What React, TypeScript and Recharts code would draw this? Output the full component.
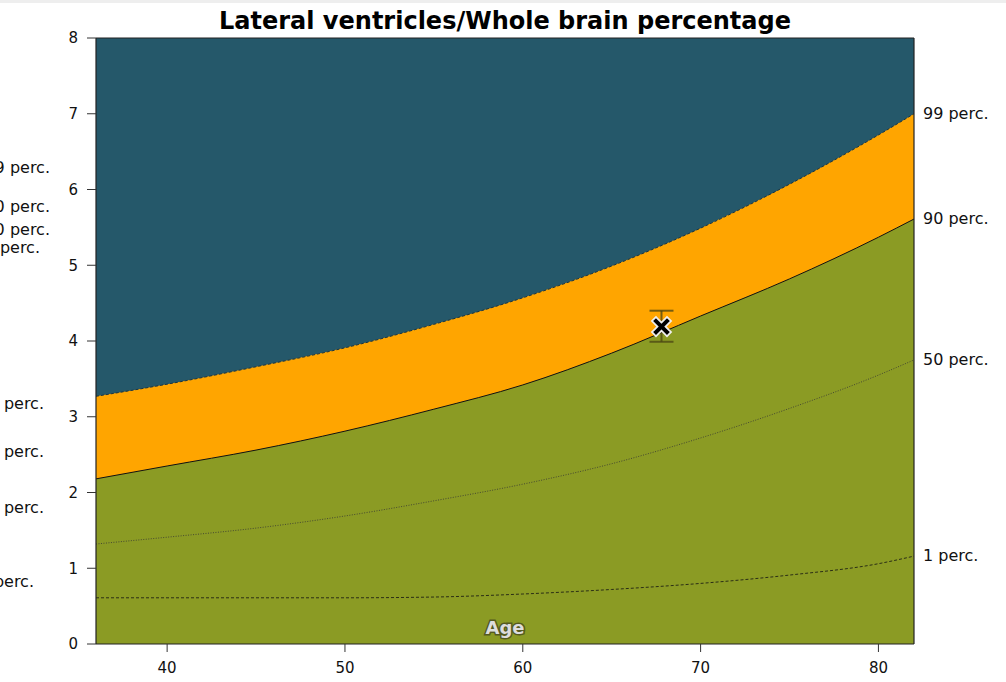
import React from "react";
import {
  ComposedChart,
  Area,
  Line,
  Scatter,
  ErrorBar,
  XAxis,
  YAxis,
  ReferenceArea,
  ReferenceLine,
} from "recharts";

const ages = [36, 40, 45, 50, 55, 60, 65, 70, 75, 80, 82];
const p99 = [3.27, 3.43, 3.66, 3.91, 4.22, 4.57, 4.99, 5.49, 6.07, 6.72, 7.0];
const p90 = [2.18, 2.35, 2.56, 2.81, 3.1, 3.42, 3.84, 4.33, 4.82, 5.37, 5.61];
const p50 = [1.32, 1.41, 1.53, 1.69, 1.89, 2.11, 2.38, 2.72, 3.11, 3.55, 3.75];
const p1 = [0.61, 0.61, 0.61, 0.61, 0.62, 0.66, 0.72, 0.8, 0.91, 1.06, 1.16];

const xTicks = [40, 50, 60, 70, 80];
const yTicks = [0, 1, 2, 3, 4, 5, 6, 7, 8];

const subject = [{ age: 67.8, value: 4.19, err: [0.2, 0.21] }];

// labels of the neighbouring panel, cut by the page edge
const sideLabels = [
  { text: "99 perc.", top: 168, right: 50 },
  { text: "90 perc.", top: 207, right: 50 },
  { text: "50 perc.", top: 230, right: 50 },
  { text: "1 perc.", top: 248, right: 40 },
  { text: "99 perc.", top: 404, right: 44 },
  { text: "90 perc.", top: 452, right: 44 },
  { text: "50 perc.", top: 508, right: 44 },
  { text: "1 perc.", top: 582, right: 34 },
];

const data = ages.map((age, i) => ({
  age,
  p99: p99[i],
  p90: p90[i],
  p50: p50[i],
  p1: p1[i],
}));

const FONT = "'DejaVu Sans', sans-serif";

function endLabel(name: string) {
  return (props: any) => {
    const { x, y, index } = props;
    if (index !== ages.length - 1) return null;
    return (
      <text x={x + 9} y={y} dy={5} fontSize={16} fontFamily={FONT} fill="#111">
        {name}
      </text>
    );
  };
}

function Cross(props: any) {
  const { cx, cy } = props;
  const s = 5.5;
  const d = `M${cx - s},${cy - s}L${cx + s},${cy + s}M${cx - s},${cy + s}L${cx + s},${cy - s}`;
  return (
    <g>
      <path d={d} stroke="#eee" strokeWidth={7.5} strokeLinecap="square" />
      <path d={d} stroke="#000" strokeWidth={4} strokeLinecap="square" />
    </g>
  );
}

export default function App() {
  return (
    <div
      style={{
        position: "absolute",
        left: 0,
        top: 0,
        width: 1006,
        height: 682,
        background: "#fff",
        overflow: "hidden",
        fontFamily: FONT,
      }}
    >
      <div style={{ position: "absolute", left: 0, top: 0, width: 1006, height: 3, background: "#eeeeee" }} />
      <div
        style={{
          position: "absolute",
          left: 0,
          width: 1010,
          top: 7,
          textAlign: "center",
          fontWeight: "bold",
          fontSize: 24,
          color: "#000",
        }}
      >
        Lateral ventricles/Whole brain percentage
      </div>
      {sideLabels.map((l, i) => (
        <div
          key={i}
          style={{
            position: "absolute",
            right: 1006 - l.right,
            top: l.top - 10,
            fontSize: 16,
            whiteSpace: "nowrap",
            color: "#111",
          }}
        >
          {l.text}
        </div>
      ))}
      <div style={{ position: "absolute", left: 0, top: 0 }}>
        <ComposedChart
          width={1006}
          height={682}
          data={data}
          margin={{ top: 38, right: 92, bottom: 8, left: 46 }}
        >
          <XAxis
            dataKey="age"
            type="number"
            domain={[36, 82]}
            ticks={xTicks}
            allowDataOverflow
            height={30}
            tick={{ fontSize: 15, fill: "#111", fontFamily: FONT }}
            tickSize={8}
            tickMargin={10}
            tickLine={{ stroke: "#333" }}
            axisLine={{ stroke: "#222", strokeWidth: 1.2 }}
            label={(props: any) => {
              const vb = props.viewBox;
              return (
                <text
                  x={vb.x + vb.width / 2}
                  y={vb.y - 10}
                  textAnchor="middle"
                  fontSize={18}
                  fontWeight="bold"
                  fontFamily={FONT}
                  fill="#ddd"
                  stroke="#555a20"
                  strokeWidth={3}
                  paintOrder="stroke"
                >
                  Age
                </text>
              );
            }}
          />
          <YAxis
            type="number"
            domain={[0, 8]}
            ticks={yTicks}
            allowDataOverflow
            width={50}
            tick={{ fontSize: 15, fill: "#111", fontFamily: FONT }}
            tickSize={9}
            tickMargin={9}
            tickLine={{ stroke: "#333" }}
            axisLine={{ stroke: "#222", strokeWidth: 1.2 }}
          />
          <ReferenceArea x1={36} x2={82} y1={0} y2={8} fill="#25586a" fillOpacity={1} stroke="none" />
          <Area
            type="monotone"
            dataKey="p99"
            fill="#ffa500"
            fillOpacity={1}
            stroke="none"
            isAnimationActive={false}
          />
          <Area
            type="monotone"
            dataKey="p90"
            fill="#8b9b24"
            fillOpacity={1}
            stroke="none"
            isAnimationActive={false}
          />
          <Line
            type="monotone"
            dataKey="p99"
            stroke="#1b3440"
            strokeWidth={1}
            strokeDasharray="3 2"
            dot={false}
            label={endLabel("99 perc.")}
            isAnimationActive={false}
          />
          <Line
            type="monotone"
            dataKey="p90"
            stroke="#111"
            strokeWidth={1}
            dot={false}
            label={endLabel("90 perc.")}
            isAnimationActive={false}
          />
          <Line
            type="monotone"
            dataKey="p50"
            stroke="#333"
            strokeWidth={0.8}
            strokeDasharray="1 1.5"
            dot={false}
            label={endLabel("50 perc.")}
            isAnimationActive={false}
          />
          <Line
            type="monotone"
            dataKey="p1"
            stroke="#111"
            strokeWidth={0.8}
            strokeDasharray="3 2"
            dot={false}
            label={endLabel("1 perc.")}
            isAnimationActive={false}
          />
          <ReferenceLine y={8} stroke="#222" strokeWidth={1.2} />
          <ReferenceLine x={82} stroke="#222" strokeWidth={1.2} />
          <Scatter
            data={subject}
            dataKey="value"
            shape={<Cross />}
            isAnimationActive={false}
          >
            <ErrorBar
              dataKey="err"
              direction="y"
              width={12}
              stroke="#4a4413"
              strokeOpacity={0.75}
              strokeWidth={2}
            />
          </Scatter>
        </ComposedChart>
      </div>
    </div>
  );
}
